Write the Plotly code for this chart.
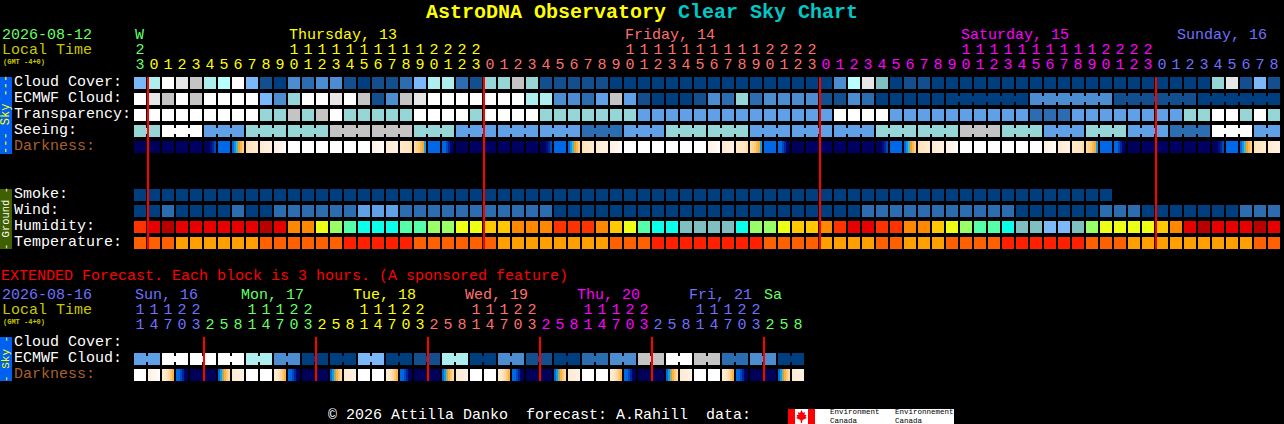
import plotly.graph_objects as go

# levels, one list per row, one value per hour block
CLOUD_COVER = [5, 8, 12, 11, 10, 8, 9, 12, 5, 1,
               0, 3, 2, 3, 3, 1, 0, 1, 1, 2,
               5, 8, 8, 2, 1, 7, 7, 10, 7, 1,
               1, 1, 1, 1, 0, 0, 0, 0, 0, 0,
               0, 0, 0, 0, 0, 0, 0, 0, 0, 0,
               3, 9, 11, 6, 0, 1, 1, 0, 0, 0,
               0, 0, 0, 0, 0, 0, 0, 0, 0, 0,
               0, 0, 0, 0, 0, 0, 0, 7, 11, 1,
               5, 1]
ECMWF_CLOUD = [12, 11, 10, 12, 10, 12, 12, 12, 12, 5,
               3, 7, 12, 12, 11, 12, 10, 1, 3, 10,
               11, 12, 12, 12, 12, 12, 12, 12, 8, 8,
               3, 3, 2, 4, 10, 4, 1, 0, 0, 0,
               1, 3, 2, 7, 2, 3, 3, 3, 3, 1,
               1, 3, 2, 0, 0, 0, 0, 0, 0, 0,
               0, 0, 0, 0, 3, 3, 3, 3, 3, 3,
               1, 1, 1, 1, 1, 1, 0, 0, 0, 0,
               0, 0]
TRANSPARENCY = [12, 12, 12, 12, 12, 12, 12, 12, 12, 7,
                7, 10, 7, 10, 12, 7, 7, 7, 7, 7,
                12, 12, 12, 12, 7, 12, 12, 12, 12, 7,
                7, 7, 7, 7, 7, 7, 4, 4, 4, 4,
                4, 4, 4, 4, 4, 4, 4, 4, 4, 4,
                12, 12, 12, 12, 4, 4, 4, 4, 4, 4,
                4, 4, 4, 4, 2, 2, 2, 4, 4, 4,
                4, 4, 4, 4, 4, 7, 7, 12, 12, 7,
                12, 7]
SEEING = [7, 7, 12, 12, 12, 4, 4, 4, 7, 7,
          7, 7, 7, 7, 10, 10, 10, 10, 10, 10,
          7, 7, 7, 4, 4, 4, 4, 4, 4, 4,
          4, 4, 2, 2, 2, 4, 4, 4, 7, 7,
          7, 7, 7, 7, 4, 4, 4, 4, 4, 4,
          4, 4, 4, 7, 7, 7, 7, 7, 7, 10,
          10, 10, 7, 7, 7, 4, 4, 4, 7, 7,
          7, 4, 4, 4, 2, 2, 2, 12, 12, 12,
          4, 4]
SMOKE = [0] * 70 + [None] * 12
WIND = [0, 0, 2, 0, 0, 0, 0, 2, 0, 0,
        2, 2, 2, 2, 2, 2, 4, 4, 4, 2,
        2, 2, 2, 2, 2, 2, 2, 2, 2, 2,
        0, 0, 0, 0, 0, 0, 0, 0, 0, 0,
        0, 0, 0, 0, 0, 0, 0, 0, 0, 0,
        0, 0, 2, 2, 2, 2, 2, 2, 2, 2,
        2, 2, 2, 0, 0, 0, 0, 0, 0, 2,
        2, 2, 0, 0, 0, 0, 0, 0, 0, 2,
        2, 2]
HUMIDITY = [3, 1, 0, 1, 1, 1, 1, 1, 1, 0,
            1, 4, 4, 6, 7, 8, 9, 9, 9, 8,
            8, 7, 7, 6, 6, 5, 5, 4, 4, 4,
            3, 3, 3, 4, 5, 6, 8, 9, 9, 10,
            10, 10, 10, 9, 7, 7, 6, 5, 5, 4,
            3, 1, 1, 3, 3, 4, 4, 5, 6, 7,
            8, 8, 9, 10, 10, 11, 11, 10, 7, 6,
            6, 6, 6, 5, 4, 1, 0, 1, 1, 1,
            0, 1]
TEMPERATURE = [1, 1, 1, 0, 0, 0, 0, 0, 0, 1,
               1, 1, 1, 1, 1, 2, 2, 2, 2, 2,
               1, 1, 1, 1, 1, 1, 0, 0, 0, 0,
               0, 0, 0, 0, 1, 1, 1, 2, 2, 2,
               2, 2, 2, 2, 2, 1, 1, 1, 1, 0,
               0, 0, 0, 1, 1, 0, 0, 0, 1, 1,
               1, 1, 2, 2, 2, 2, 2, 2, 1, 1,
               1, 0, 0, 0, 0, 0, 0, 0, 0, 0,
               1, 1]

# darkness changes inside a block, so each block has six readings
NAVY = [0.3] * 6
NAVY2 = [0.6] * 6
FADE_IN = [0.4, 0.4, 0.8, 1.2, 1.6, 2.2]
BLUE = [3, 3, 3, 3, 3, 3]
DAWN = [3, 3.5, 4.2, 5, 5.6, 6.2]
PALE = [6.9, 7, 7.1, 7.3, 7.4, 7.5]
CREAM = [7.5, 7.6, 7.8, 7.8, 8, 8]
SOFT = [8, 8.2, 8.4, 8.4, 8.6, 8.8]
WHITE = [9, 9, 9, 9, 9, 9]
DUSK_PALE = [7.4, 7.3, 7.2, 7.1, 7, 6.8]
DUSK = [6.6, 6.4, 6.1, 5.6, 5.2, 3.6]
FADE_OUT = [3, 3, 2.2, 1.6, 1, 0.6]
DARKNESS = [NAVY, NAVY, NAVY2, NAVY2, NAVY2, FADE_IN, BLUE, DAWN, PALE, CREAM,
            SOFT, WHITE, WHITE, WHITE, WHITE, WHITE, WHITE, SOFT, CREAM, DUSK_PALE,
            DUSK, BLUE, FADE_OUT, NAVY, NAVY2, NAVY2, NAVY2, NAVY2, NAVY2, FADE_IN,
            BLUE, DAWN, PALE, CREAM, SOFT, WHITE, WHITE, WHITE, WHITE, WHITE,
            WHITE, SOFT, CREAM, DUSK_PALE, DUSK, BLUE, FADE_OUT, NAVY, NAVY2, NAVY2,
            NAVY2, NAVY2, NAVY2, FADE_IN, BLUE, DAWN, PALE, CREAM, SOFT, WHITE,
            WHITE, WHITE, WHITE, WHITE, WHITE, SOFT, CREAM, DUSK_PALE, DUSK, BLUE,
            FADE_OUT, NAVY, NAVY2, NAVY2, NAVY2, NAVY2, NAVY2, FADE_IN, BLUE, DAWN,
            PALE, CREAM]

EXT_ECMWF = [4, 4, 12, 12, 12, 12, 12, 12, 8, 8,
             3, 3, 0, 0, 0, 0, 5, 5, 0, 0,
             1, 1, 8, 8, 0, 0, 3, 3, 1, 1,
             0, 0, 2, 2, 3, 3, 10, 10, 12, 12,
             10, 10, 2, 2, 3, 3, 0, 0]
EXT_DAWN = [3, 3.6, 4.6, 5.4, 6, 6.6]
EXT_EVE = [7.6, 7.4, 7, 6.6, 6, 5.4]
EXT_DARKNESS = [WHITE, SOFT, EXT_EVE, FADE_OUT, NAVY, NAVY, EXT_DAWN, CREAM,
                WHITE, WHITE, EXT_EVE, FADE_OUT, NAVY, NAVY, EXT_DAWN, CREAM,
                WHITE, WHITE, EXT_EVE, FADE_OUT, NAVY, NAVY, EXT_DAWN, CREAM,
                WHITE, WHITE, EXT_EVE, FADE_OUT, NAVY, NAVY, EXT_DAWN, CREAM,
                WHITE, WHITE, EXT_EVE, FADE_OUT, NAVY, NAVY, EXT_DAWN, CREAM,
                WHITE, WHITE, EXT_EVE, FADE_OUT, NAVY, NAVY, EXT_DAWN, CREAM]

HOURS = [23, 0, 1, 2, 3, 4, 5, 6, 7, 8, 9, 10, 11, 12, 13, 14, 15, 16, 17, 18, 19, 20, 21, 22, 23,
         0, 1, 2, 3, 4, 5, 6, 7, 8, 9, 10, 11, 12, 13, 14, 15, 16, 17, 18, 19, 20, 21, 22, 23,
         0, 1, 2, 3, 4, 5, 6, 7, 8, 9, 10, 11, 12, 13, 14, 15, 16, 17, 18, 19, 20, 21, 22, 23,
         0, 1, 2, 3, 4, 5, 6, 7, 8]
EXT_HOURS = [11, 14, 17, 20, 23,
             2, 5, 8, 11, 14, 17, 20, 23,
             2, 5, 8, 11, 14, 17, 20, 23,
             2, 5, 8, 11, 14, 17, 20, 23,
             2, 5, 8, 11, 14, 17, 20, 23,
             2, 5, 8, 11, 14, 17, 20, 23,
             2, 5, 8]

GREEN = "#66ff66"
YELLOW = "#ffff00"
SALMON = "#ff7070"
MAGENTA = "#ff00ff"
VIOLET = "#7070ff"
DIM_YELLOW = "#c8c800"
BROWN = "#a8602c"

DAY_BREAKS = [1, 25, 49, 73]
DAY_COLORS = [GREEN, YELLOW, SALMON, MAGENTA, VIOLET]
EXT_BREAKS = [5, 13, 21, 29, 37, 45]
EXT_DAY_COLORS = [VIOLET, GREEN, YELLOW, SALMON, MAGENTA, VIOLET, GREEN]

SKY_COLORS = ["#003f7f", "#134f8f", "#2c6cb0", "#4c8cd0", "#60a0e6", "#7ab8fa", "#80c0c0",
              "#96d6d6", "#aeeeee", "#b8ffff", "#c4c4c4", "#e6e6e6", "#ffffff"]
HUMIDITY_COLORS = ["#b80000", "#e60000", "#f00000", "#ff3300", "#ff8800", "#ffc800", "#ecff14",
                   "#99ff66", "#55ffaa", "#0cffe8", "#80bfbf", "#7db8f8"]
TEMPERATURE_COLORS = ["#ffa000", "#ff6000", "#ff2000"]
DARK_COLORS = ["#000050", "#000070", "#0040b0", "#0068e8", "#20c0e0",
               "#f8a020", "#ffc870", "#ffe4bc", "#fff0e0", "#ffffff"]

MONO = "Liberation Mono"
X0 = 140   # centre of first block, pixels
PITCH = 14


def discrete(colors):
    n = len(colors) - 1
    return [[i / n, c] for i, c in enumerate(colors)]


def blocks(rows, y0, colors):
    return go.Heatmap(z=rows, x0=X0, dx=PITCH, y0=y0, dy=16, xgap=2, ygap=4,
                      zmin=0, zmax=len(colors) - 1, colorscale=discrete(colors),
                      showscale=False, hoverinfo="skip")


def dark_strip(values, y):
    edges, z = [], []
    for c, block in enumerate(values):
        for k in range(7):
            edges.append(134 + PITCH * c + 2 * k)
        z += block + [None]
    edges.append(134 + PITCH * len(values))
    return go.Heatmap(z=[z], x=edges, y0=y, dy=12, zmin=0, zmax=len(DARK_COLORS) - 1,
                      colorscale=discrete(DARK_COLORS), showscale=False, hoverinfo="skip")


def links(values, y, joined):
    # short pieces that tie the blocks of one forecast period together
    cols = [c for c in range(len(values) - 1) if joined(c)]
    return go.Bar(x=[X0 + PITCH * c + 7 for c in cols], y=[6] * len(cols), base=y - 3, width=2,
                  marker=dict(color=[SKY_COLORS[values[c]] for c in cols], line_width=0),
                  hoverinfo="skip")


def red_lines(cols, top, bottom):
    return go.Bar(x=[134 + PITCH * c for c in cols], y=[bottom - top] * len(cols), base=top, width=2,
                  marker=dict(color="#ff0000", line_width=0), hoverinfo="skip")


def digit_trace(cols, texts, colors, y):
    return go.Scatter(x=[X0 + PITCH * c for c in cols], y=[y] * len(cols), text=texts, mode="text",
                      textposition="middle center",
                      textfont=dict(family=MONO, size=15, color=colors), hoverinfo="skip")


def colors_by_day(n, breaks, palette):
    out = []
    for c in range(n):
        out.append(palette[sum(1 for b in breaks if c >= b)])
    return out


def hour_rows(hours, breaks, palette, y_tens, y_ones):
    colors = colors_by_day(len(hours), breaks, palette)
    tens = [c for c, h in enumerate(hours) if h >= 10]
    return [digit_trace(tens, [str(hours[c] // 10) for c in tens], [colors[c] for c in tens], y_tens),
            digit_trace(list(range(len(hours))), [str(h % 10) for h in hours], colors, y_ones)]


fig = go.Figure()
fig.add_trace(blocks([CLOUD_COVER, ECMWF_CLOUD, TRANSPARENCY, SEEING], 83, SKY_COLORS))
fig.add_trace(dark_strip(DARKNESS, 147))
fig.add_trace(blocks([SMOKE, WIND], 195, SKY_COLORS))
fig.add_trace(blocks([HUMIDITY], 227, HUMIDITY_COLORS))
fig.add_trace(blocks([TEMPERATURE], 243, TEMPERATURE_COLORS))
fig.add_trace(blocks([EXT_ECMWF], 359, SKY_COLORS))
fig.add_trace(dark_strip(EXT_DARKNESS, 375))

fig.add_trace(links(SEEING, 131, lambda c: (c + 1) % 3 != 2))
fig.add_trace(links(ECMWF_CLOUD, 99, lambda c: c >= 58 and (c + 1 - 58) % 6 != 0))
fig.add_trace(links(EXT_ECMWF, 359, lambda c: c % 2 == 0))
fig.add_trace(red_lines(DAY_BREAKS, 77, 249))
fig.add_trace(red_lines(EXT_BREAKS, 337, 381))

for t in hour_rows(HOURS, DAY_BREAKS, DAY_COLORS, 50, 65):
    fig.add_trace(t)
for t in hour_rows(EXT_HOURS, EXT_BREAKS, EXT_DAY_COLORS, 310, 325):
    fig.add_trace(t)


def label(x, y, text, color="#ffffff", size=15, bold=False, family=MONO, angle=0, xanchor="left"):
    fig.add_annotation(x=x - 1 if xanchor == "left" else x, y=y, text=f"<b>{text}</b>" if bold else text,
                       showarrow=False, xanchor=xanchor, yanchor="middle", borderpad=0, textangle=angle,
                       font=dict(family=family, size=size, color=color))


def box(x0, y0, x1, y1, color):
    fig.add_shape(type="rect", x0=x0, y0=y0, x1=x1, y1=y1, fillcolor=color, line_width=0, layer="below")


label(426, 12, "AstroDNA Observatory", YELLOW, 20, True)
label(678, 12, "Clear Sky Chart", "#00c8c8", 20, True)

label(2, 35, "2026-08-12", GREEN)
label(2, 50, "Local Time", DIM_YELLOW)
label(3, 62, "(GMT -4+0)", DIM_YELLOW, 7, True)
label(135, 35, "W", GREEN)
label(289, 35, "Thursday, 13", YELLOW)
label(625, 35, "Friday, 14", SALMON)
label(961, 35, "Saturday, 15", MAGENTA)
label(1177, 35, "Sunday, 16", VIOLET)

for y, name, color in [(82, "Cloud Cover:", "#ffffff"), (98, "ECMWF Cloud:", "#ffffff"),
                       (114, "Transparency:", "#ffffff"), (130, "Seeing:", "#ffffff"),
                       (146, "Darkness:", BROWN), (194, "Smoke:", "#ffffff"), (210, "Wind:", "#ffffff"),
                       (226, "Humidity:", "#ffffff"), (242, "Temperature:", "#ffffff"),
                       (342, "Cloud Cover:", "#ffffff"), (358, "ECMWF Cloud:", "#ffffff"),
                       (374, "Darkness:", BROWN)]:
    label(14, y, name, color)

label(1, 276, "EXTENDED Forecast. Each block is 3 hours. (A sponsored feature)", "#ff0000")
label(2, 295, "2026-08-16", VIOLET)
label(2, 310, "Local Time", DIM_YELLOW)
label(3, 322, "(GMT -4+0)", DIM_YELLOW, 7, True)
for x, name, color in [(135, "Sun, 16", VIOLET), (241, "Mon, 17", GREEN), (353, "Tue, 18", YELLOW),
                       (465, "Wed, 19", SALMON), (577, "Thu, 20", MAGENTA), (689, "Fri, 21", VIOLET),
                       (764, "Sa", GREEN)]:
    label(x, 295, name, color)

# side tabs
box(0, 77, 12, 154, "#0060f0")
box(0, 189, 12, 249, "#406000")
box(0, 337, 12, 381, "#0060f0")
label(6, 115, "--- Sky ---", YELLOW, 12, angle=-90, xanchor="center")
label(6, 219, "- Ground -", "#ffffff", 10.5, angle=-90, xanchor="center")
label(6, 359, "- Sky -", YELLOW, 11, angle=-90, xanchor="center")

# footer and government logo
label(328, 415, "© 2026 Attilla Danko  forecast: A.Rahill  data:")
box(788, 409, 954, 424, "#ffffff")
box(788, 409, 795, 424, "#ff0000")
box(808, 409, 815, 424, "#ff0000")
fig.add_shape(type="path", fillcolor="#ff0000", line_width=0,
              path="M801.5 410 L803 413 L805 412 L804.5 415 L806.5 415 L805.5 417 L807 418 "
                   "L802.5 420 L802 423 L801 423 L800.5 420 L796 418 L797.5 417 L796.5 415 "
                   "L798.5 415 L798 412 L800 413 Z")
label(830, 412, "Environment", "#000000", 7.5)
label(830, 420.5, "Canada", "#000000", 7.5)
label(895, 412, "Environnement", "#000000", 7.5)
label(895, 420.5, "Canada", "#000000", 7.5)

fig.update_layout(
    width=1284, height=424, margin=dict(l=0, r=0, t=0, b=0),
    paper_bgcolor="#000000", plot_bgcolor="#000000", showlegend=False, barmode="overlay",
    xaxis=dict(range=[0, 1284], visible=False, fixedrange=True),
    yaxis=dict(range=[424, 0], visible=False, fixedrange=True),
)

fig.write_html("out.html", config=dict(displayModeBar=False),
               post_script="document.body.style.margin='0';document.body.style.background='#000';")
